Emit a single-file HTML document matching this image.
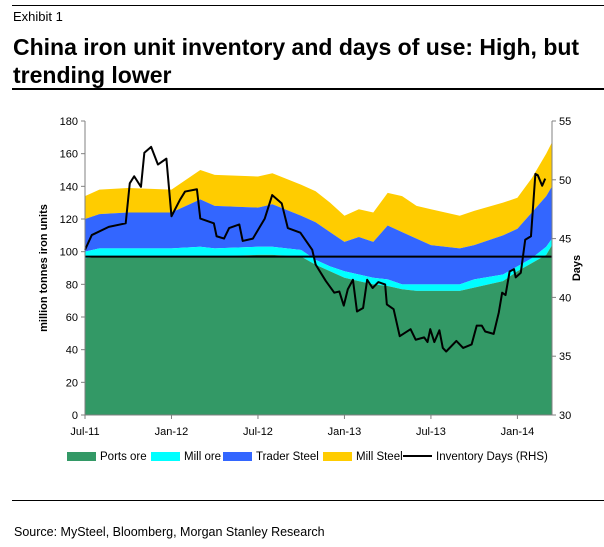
<!DOCTYPE html>
<html><head><meta charset="utf-8"><style>
body{margin:0;background:#fff;font-family:"Liberation Sans",Arial,sans-serif;}
#wrap{position:relative;width:604px;height:547px;overflow:hidden;}
.t{position:absolute;color:#000;white-space:nowrap;}
</style></head><body>
<div id="wrap">
<div style="position:absolute;left:12px;top:5px;width:592px;height:1px;background:#000"></div>
<div class="t" style="left:13px;top:9px;font-size:13px">Exhibit 1</div>
<div class="t" style="left:13px;top:33px;font-size:23px;font-weight:bold;line-height:28px">China iron unit inventory and days of use: High, but<br>trending lower</div>
<div style="position:absolute;left:12px;top:88px;width:592px;height:2px;background:#000"></div>
<svg id="chart" width="604" height="480" style="position:absolute;left:0;top:0"></svg>
<div style="position:absolute;left:12px;top:500px;width:592px;height:1px;background:#000"></div>
<div class="t" style="left:14px;top:525px;font-size:12.5px">Source: MySteel, Bloomberg, Morgan Stanley Research</div>
</div>
<script>
// stacked series: cumulative tops (million tonnes), x in months since Jul-11
const stackMonths=[0,1,3,6,8,9,12,13,15,16,17,18,19,20,21,22,23,24,26,27,29,30,31,32,32.4];
const portsTop=[96,97,97,97,97,97,98,98,97,92,88,84,82,80,79,77,76,76,76,78,82,88,93,98,104];
const millOreTop=[100,102,102,102,103,102,103,103,101,95,91,88,86,84,83,80,80,80,80,83,86,91,96,103,108];
const traderTop=[120,123,124,124,132,128,127,129,122,118,112,106,109,106,116,112,108,104,102,104,110,114,124,134,140];
const millSteelTop=[134,138,139,138,150,147,146,148,141,137,130,122,126,124,136,134,128,126,122,125,130,133,145,160,167];
// inventory days (RHS)
const invX=[130,150,200,250,262,275,295,305,325,345,370,385,410,425,460,470,510,518,540,555,585,595,625,660,682,710,728,765,800,810,840,865,880,893,905,920,932,950,962,978,995,1015,1020,1040,1058,1090,1105,1130,1140,1148,1160,1175,1185,1195,1225,1245,1270,1285,1300,1310,1335,1350,1360,1370,1382,1395,1400,1415,1428,1445,1458,1465,1478,1487];
const invDays=[44.05,45.3,46.0,46.3,49.7,50.3,49.4,52.3,52.8,51.3,51.8,46.9,48.3,49.0,49.2,46.7,46.3,45.2,45.0,45.9,46.2,44.8,45.0,46.7,48.7,48.0,45.9,45.5,44.05,42.8,41.4,40.4,40.5,39.3,40.7,41.5,38.8,39.1,41.5,40.8,41.3,41.1,39.4,39.0,36.7,37.3,36.4,36.6,36.2,37.3,36.2,37.2,35.7,35.4,36.3,35.7,36.0,37.6,37.6,37.1,36.9,38.7,40.4,40.2,42.2,42.4,41.7,42.1,44.9,45.2,50.5,50.4,49.5,50.1];
const invMonths=invX.map(v=>(v-130)/42.5);
const leftTicks=[0,20,40,60,80,100,120,140,160,180];
const rightTicks=[30,35,40,45,50,55];
const xLabels=["Jul-11","Jan-12","Jul-12","Jan-13","Jul-13","Jan-14"];
const xLabelMonths=[0,6,12,18,24,30];
const refLine=97;

const X0=85,X1=552,Y0=415,Y1=121,MMAX=32.4;
const xs=m=>X0+(X1-X0)*m/MMAX;
const yl=v=>Y0-(Y0-Y1)*v/180;
const yr=v=>Y0-(Y0-Y1)*(v-30)/25;
const svg=document.getElementById('chart');
const NS='http://www.w3.org/2000/svg';
function mk(tag,attrs){const e=document.createElementNS(NS,tag);for(const k in attrs)e.setAttribute(k,attrs[k]);svg.appendChild(e);return e;}
function area(top,bottom,color,name){
  let d='M'+stackMonths.map((m,i)=>xs(m)+','+yl(top[i])).join('L');
  for(let i=stackMonths.length-1;i>=0;i--)d+='L'+xs(stackMonths[i])+','+(bottom?yl(bottom[i]):Y0);
  const p=mk('path',{d:d+'Z',fill:color});
  
  
}
area(millSteelTop,traderTop,'#ffcc00','mill-steel-area');
area(traderTop,millOreTop,'#3366ff','trader-steel-area');
area(millOreTop,portsTop,'#00ffff','mill-ore-area');
area(portsTop,null,'#339966','ports-ore-area');
const rl=mk('line',{x1:X0,x2:X1,y1:yl(refLine),y2:yl(refLine),stroke:'#000','stroke-width':2});


const il=mk('polyline',{points:invMonths.map((m,i)=>xs(m)+','+yr(invDays[i])).join(' '),fill:'none',stroke:'#000','stroke-width':2,'stroke-linejoin':'round'});


const la=mk('line',{x1:X0,x2:X0,y1:Y1,y2:Y0,stroke:'#808080'});


const ra=mk('line',{x1:X1,x2:X1,y1:Y1,y2:Y0,stroke:'#808080'});


const xa=mk('line',{x1:X0,x2:X1,y1:Y0,y2:Y0,stroke:'#808080'});


leftTicks.forEach(v=>{
  mk('line',{x1:X0-4,x2:X0,y1:yl(v),y2:yl(v),stroke:'#808080'});
  const t=mk('text',{x:X0-7,y:yl(v)+4,'text-anchor':'end','font-size':11});
  t.textContent=v;
  
  
});
rightTicks.forEach(v=>{
  mk('line',{x1:X1,x2:X1+4,y1:yr(v),y2:yr(v),stroke:'#808080'});
  const t=mk('text',{x:X1+7,y:yr(v)+4,'font-size':11});
  t.textContent=v;
  
  
});
for(let m=0;m<=32;m+=6) mk('line',{x1:xs(m),x2:xs(m),y1:Y0,y2:Y0+4,stroke:'#808080'});
xLabels.forEach((l,i)=>{
  const t=mk('text',{x:xs(xLabelMonths[i]),y:Y0+20,'text-anchor':'middle','font-size':11});
  t.textContent=l;
  
  
});
const yt=mk('text',{x:0,y:0,transform:'translate(47,268) rotate(-90)','text-anchor':'middle','font-size':11,'font-weight':'bold'});
yt.textContent='million tonnes iron units';


const rt=mk('text',{x:0,y:0,transform:'translate(580,268) rotate(-90)','text-anchor':'middle','font-size':11,'font-weight':'bold'});
rt.textContent='Days';


// legend
const legend=[["Ports ore","#339966",67,"box"],["Mill ore","#00ffff",151,"box"],["Trader Steel","#3366ff",223,"box"],["Mill Steel","#ffcc00",323,"box"],["Inventory Days (RHS)","#000",403,"line"]];
legend.forEach(([name,c,x,kind])=>{
  const g=mk('g',{});
  
  
  const s=kind==='box'?document.createElementNS(NS,'rect'):document.createElementNS(NS,'line');
  if(kind==='box'){s.setAttribute('x',x);s.setAttribute('y',452);s.setAttribute('width',29);s.setAttribute('height',9);s.setAttribute('fill',c);}
  else{s.setAttribute('x1',x);s.setAttribute('x2',x+29);s.setAttribute('y1',456);s.setAttribute('y2',456);s.setAttribute('stroke',c);s.setAttribute('stroke-width',2);}
  g.appendChild(s);
  const t=document.createElementNS(NS,'text');
  t.setAttribute('x',x+33);t.setAttribute('y',460);t.setAttribute('font-size',11.5);
  t.textContent=name;g.appendChild(t);
});
</script>
</body></html>
